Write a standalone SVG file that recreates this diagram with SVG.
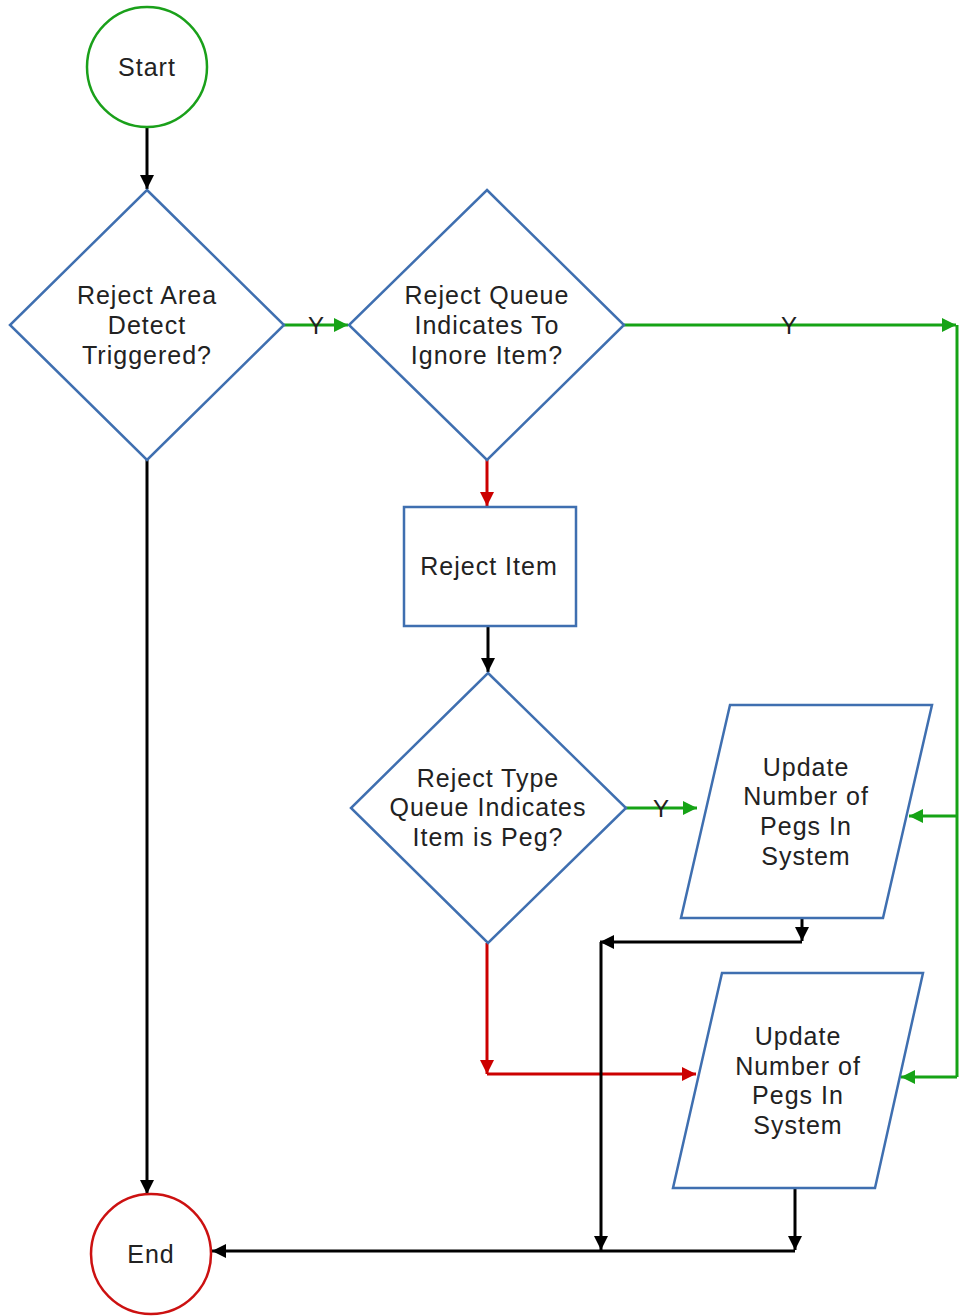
<svg xmlns="http://www.w3.org/2000/svg" width="961" height="1316" viewBox="0 0 961 1316">
  <defs>
    <marker id="ah-black" viewBox="0 0 10 10" refX="10" refY="5" markerWidth="14" markerHeight="14" markerUnits="userSpaceOnUse" orient="auto">
      <path d="M0,0 L10,5 L0,10 z" fill="#000"/>
    </marker>
    <marker id="ah-green" viewBox="0 0 10 10" refX="10" refY="5" markerWidth="14" markerHeight="14" markerUnits="userSpaceOnUse" orient="auto">
      <path d="M0,0 L10,5 L0,10 z" fill="#16a316"/>
    </marker>
    <marker id="ah-red" viewBox="0 0 10 10" refX="10" refY="5" markerWidth="14" markerHeight="14" markerUnits="userSpaceOnUse" orient="auto">
      <path d="M0,0 L10,5 L0,10 z" fill="#cc0000"/>
    </marker>
  </defs>
  <style>
    .shape { fill: #fff; stroke: #3f6fb0; stroke-width: 2.5; }
    .start { fill: #fff; stroke: #1aa01a; stroke-width: 2.5; }
    .end { fill: #fff; stroke: #cc1111; stroke-width: 2.5; }
    .lbl { font-family: "Liberation Sans", Arial, sans-serif; font-size: 25px; letter-spacing: 1px; fill: #222; text-anchor: middle; }
    .yl { font-family: "Liberation Sans", Arial, sans-serif; font-size: 24px; fill: #222; text-anchor: middle; }
    .k { fill: none; stroke: #000; stroke-width: 3; }
    .g { fill: none; stroke: #16a316; stroke-width: 3; }
    .r { fill: none; stroke: #cc0000; stroke-width: 3; }
  </style>
  <rect width="961" height="1316" fill="#fff"/>

  <g id="connectors">
    <!-- Start to first decision -->
    <path class="k" d="M147,127 V189" marker-end="url(#ah-black)"/>
    <!-- Reject area: yes -->
    <path class="g" d="M284,325 H348" marker-end="url(#ah-green)"/>
    <text class="yl" x="316" y="334">Y</text>
    <!-- Reject area: no, straight to End -->
    <path class="k" d="M147,460 V1194" marker-end="url(#ah-black)"/>
    <!-- Ignore item: yes, to right rail -->
    <path class="g" d="M624,325 H956" marker-end="url(#ah-green)"/>
    <text class="yl" x="789" y="334">Y</text>
    <path class="g" d="M957,325 V1077"/>
    <path class="g" d="M957,816 H909" marker-end="url(#ah-green)"/>
    <path class="g" d="M957,1077 H901" marker-end="url(#ah-green)"/>
    <!-- Ignore item: no -->
    <path class="r" d="M487,460 V506" marker-end="url(#ah-red)"/>
    <!-- Reject item to type decision -->
    <path class="k" d="M488,626 V672" marker-end="url(#ah-black)"/>
    <!-- Type is peg: yes -->
    <path class="g" d="M626,808 H697" marker-end="url(#ah-green)"/>
    <text class="yl" x="661" y="817">Y</text>
    <!-- Type is peg: no -->
    <path class="r" d="M487,943 V1074" marker-end="url(#ah-red)"/>
    <path class="r" d="M487,1074 H696" marker-end="url(#ah-red)"/>
    <!-- Upper update to End -->
    <path class="k" d="M802,918 V941" marker-end="url(#ah-black)"/>
    <path class="k" d="M802,942 H600" marker-end="url(#ah-black)"/>
    <path class="k" d="M601,942 V1250" marker-end="url(#ah-black)"/>
    <!-- Lower update to End -->
    <path class="k" d="M795,1188 V1250" marker-end="url(#ah-black)"/>
    <path class="k" d="M795,1251 H212" marker-end="url(#ah-black)"/>
  </g>

  <g id="start">
    <circle class="start" cx="147" cy="67" r="60"/>
    <text class="lbl" x="147" y="76">Start</text>
  </g>

  <g id="reject-area">
    <polygon class="shape" points="147,190 284,325 147,460 10,325"/>
    <text class="lbl" x="147" y="304">Reject Area</text>
    <text class="lbl" x="147" y="334">Detect</text>
    <text class="lbl" x="147" y="364">Triggered?</text>
  </g>

  <g id="reject-queue">
    <polygon class="shape" points="487,190 624,325 487,460 349,325"/>
    <text class="lbl" x="487" y="304">Reject Queue</text>
    <text class="lbl" x="487" y="334">Indicates To</text>
    <text class="lbl" x="487" y="364">Ignore Item?</text>
  </g>

  <g id="reject-item">
    <rect class="shape" x="404" y="507" width="172" height="119"/>
    <text class="lbl" x="489" y="575">Reject Item</text>
  </g>

  <g id="reject-type">
    <polygon class="shape" points="488,673 626,808 488,943 351,808"/>
    <text class="lbl" x="488" y="787">Reject Type</text>
    <text class="lbl" x="488" y="816">Queue Indicates</text>
    <text class="lbl" x="488" y="846">Item is Peg?</text>
  </g>

  <g id="update-upper">
    <polygon class="shape" points="730,705 932,705 883,918 681,918"/>
    <text class="lbl" x="806" y="776">Update</text>
    <text class="lbl" x="806" y="805">Number of</text>
    <text class="lbl" x="806" y="835">Pegs In</text>
    <text class="lbl" x="806" y="865">System</text>
  </g>

  <g id="update-lower">
    <polygon class="shape" points="722,973 923,973 875,1188 673,1188"/>
    <text class="lbl" x="798" y="1045">Update</text>
    <text class="lbl" x="798" y="1075">Number of</text>
    <text class="lbl" x="798" y="1104">Pegs In</text>
    <text class="lbl" x="798" y="1134">System</text>
  </g>

  <g id="end">
    <circle class="end" cx="151" cy="1254" r="60"/>
    <text class="lbl" x="151" y="1263">End</text>
  </g>
</svg>
